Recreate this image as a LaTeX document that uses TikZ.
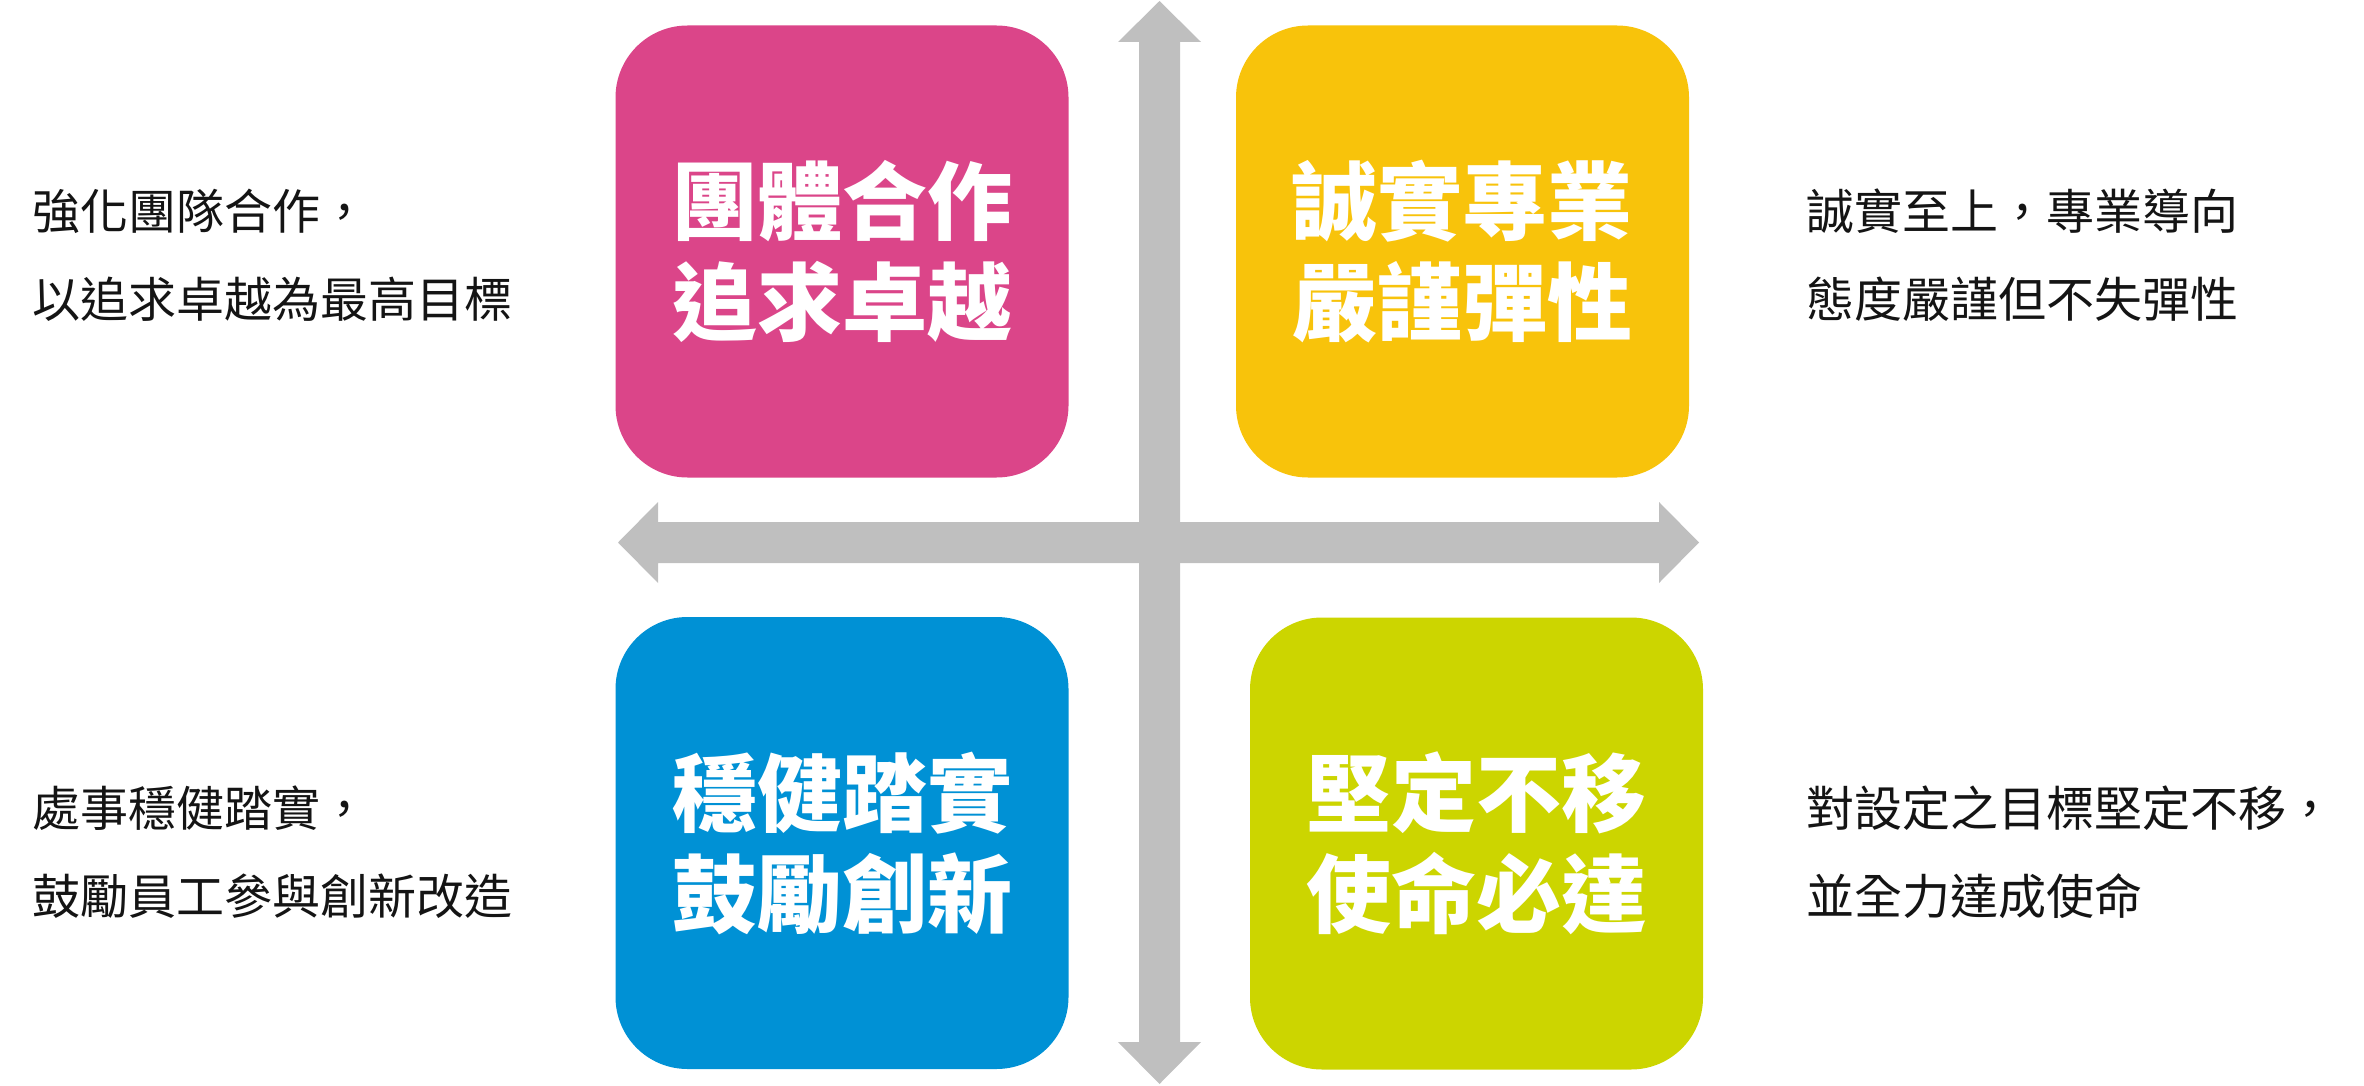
\documentclass[tikz,border=0pt]{standalone}
\usepackage{fontspec}
\newfontfamily\cjk{Noto Sans CJK TC}
\definecolor{pinkbox}{RGB}{219,69,137}
\definecolor{yellowbox}{RGB}{248,195,11}
\definecolor{bluebox}{RGB}{0,145,213}
\definecolor{greenbox}{RGB}{204,213,0}
\definecolor{axisgray}{RGB}{191,191,191}
\definecolor{sidetext}{RGB}{20,20,20}
\tikzset{
  valuebox/.style={rectangle, rounded corners=72pt, minimum width=453pt, minimum height=452pt,
    inner sep=0pt, align=center, text=white, font=\cjk\bfseries\fontsize{85}{101}\selectfont},
  sidenote/.style={inner sep=0pt, align=left, anchor=west, text=sidetext,
    font=\cjk\fontsize{48}{88}\selectfont},
  axis/.style={fill=axisgray, draw=none}
}
\begin{document}
\begin{tikzpicture}[x=1pt, y=-1pt]
\useasboundingbox (0,0) rectangle (2364,1086);
% axes
\coordinate (vtop) at (1159.5,1);
\coordinate (vbot) at (1159.5,1084);
\coordinate (hleft) at (618,542.5);
\coordinate (hright) at (1699,542.5);
\fill[axis] (vtop) -- (1201,42) -- (1180,42) -- (1180,1042) -- (1201,1042) -- (vbot)
  -- (1118,1042) -- (1139,1042) -- (1139,42) -- (1118,42) -- cycle;
\fill[axis] (hleft) -- (658,502) -- (658,522) -- (1659,522) -- (1659,502) -- (hright)
  -- (1659,583) -- (1659,563) -- (658,563) -- (658,583) -- cycle;
% boxes
\node[valuebox, fill=pinkbox] (team) at (842,251.5) {團體合作\\追求卓越};
\node[valuebox, fill=yellowbox] (honest) at (1462.5,251.5) {誠實專業\\嚴謹彈性};
\node[valuebox, fill=bluebox] (steady) at (842,843) {穩健踏實\\鼓勵創新};
\node[valuebox, fill=greenbox] (firm) at (1476.5,843.5) {堅定不移\\使命必達};
% side notes
\node[sidenote] (tl) at (32,255) {強化團隊合作，\\以追求卓越為最高目標};
\node[sidenote] (tr) at (1806,255) {誠實至上，專業導向\\態度嚴謹但不失彈性};
\node[sidenote] (bl) at (32,852) {處事穩健踏實，\\鼓勵員工參與創新改造};
\node[sidenote] (br) at (1806,852) {對設定之目標堅定不移，\\並全力達成使命};
\end{tikzpicture}
\end{document}
